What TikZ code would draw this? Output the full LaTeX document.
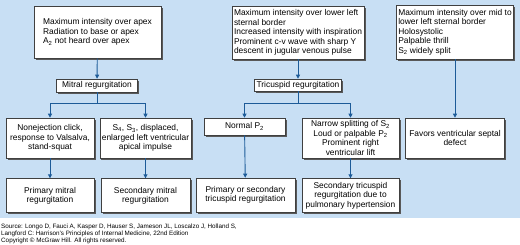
\documentclass[tikz,border=0pt]{standalone}
\usepackage{fontspec}
\setmainfont{Liberation Sans}
\usepackage{xcolor}
\usetikzlibrary{arrows.meta,positioning,shadows}

\definecolor{panelblue}{HTML}{C8DFF4}
\definecolor{flowblue}{HTML}{1D5B98}

\begin{document}
\begin{tikzpicture}[
    x=1pt, y=-1pt,
    box/.style={
        rectangle,
        draw=black!75,
        line width=0.6pt,
        fill=white,
        drop shadow={shadow xshift=1.6pt, shadow yshift=-1.6pt, fill=black!65, opacity=1},
        align=center,
        inner sep=2pt,
        font=\fontsize{8.4}{9.5}\selectfont
    },
    findings/.style={box, align=left},
    flow/.style={-{Triangle[length=4pt,width=4pt]}, draw=flowblue, line width=0.9pt}
]
    \fill[panelblue] (0,0) rectangle (520,218);
    \useasboundingbox (0,0) rectangle (520,244);

    % mitral
    \node[findings, minimum width=127pt, minimum height=52pt] (mitraltop) at (97.5,32)
        {Maximum intensity over apex\\Radiation to base or apex\\A\textsubscript{2} not heard over apex};
    \node[box, minimum width=81pt, minimum height=13pt] (mitral) at (97,85.5) {Mitral regurgitation};
    \node[box, minimum width=88pt, minimum height=40pt] (click) at (50,138)
        {Nonejection click,\\response to Valsalva,\\stand-squat};
    \node[box, minimum width=89pt, minimum height=40pt] (impulse) at (145.5,138)
        {S\textsubscript{4}, S\textsubscript{3}, displaced,\\enlarged left ventricular\\apical impulse};
    \node[box, minimum width=88pt, minimum height=34pt, below=20pt of click] (primmitral)
        {Primary mitral\\regurgitation};
    \node[box, minimum width=89pt, minimum height=34pt, below=20pt of impulse] (secmitral)
        {Secondary mitral\\regurgitation};

    % tricuspid
    \node[findings, minimum width=128pt, minimum height=53pt] (tricusptop) at (298,32.5)
        {Maximum intensity over lower left\\sternal border\\Increased intensity with inspiration\\Prominent c-v wave with sharp Y\\descent in jugular venous pulse};
    \node[box, minimum width=84pt, minimum height=12pt] (tricusp) at (298,85) {Tricuspid regurgitation};
    \node[box, minimum width=81pt, minimum height=17pt] (normalp) at (244.5,126.5) {Normal P\textsubscript{2}};
    \node[box, minimum width=97pt, minimum height=40pt] (narrow) at (350.5,138)
        {Narrow splitting of S\textsubscript{2}\\Loud or palpable P\textsubscript{2}\\Prominent right\\ventricular lift};
    \node[box, minimum width=99pt, minimum height=34pt] (primtricusp) at (245.5,195)
        {Primary or secondary\\tricuspid regurgitation};
    \node[box, minimum width=97pt, minimum height=34pt, below=20pt of narrow] (sectricusp)
        {Secondary tricuspid\\regurgitation due to\\pulmonary hypertension};

    % septal defect
    \node[findings, minimum width=110pt, minimum height=54pt] (septaltop) at (455,32)
        {Maximum intensity over mid to\\lower left sternal border\\Holosystolic\\Palpable thrill\\S\textsubscript{2} widely split};
    \node[box, minimum width=99pt, minimum height=40pt] (septal) at (455,138)
        {Favors ventricular septal\\defect};

    \draw[flow] (mitraltop) -- (mitral);
    \draw[flow] (mitral.south) -- ++(0,11) -| (click);
    \draw[flow] (mitral.south) -- ++(0,11) -| (impulse);
    \draw[flow] (click) -- (primmitral);
    \draw[flow] (impulse) -- (secmitral);

    \draw[flow] (tricusptop) -- (tricusp);
    \draw[flow] (tricusp.south) -- ++(0,12) -| (normalp);
    \draw[flow] (tricusp.south) -- ++(0,12) -| (narrow);
    \draw[flow] (normalp) -- (primtricusp);
    \draw[flow] (narrow) -- (sectricusp);

    \draw[flow] (septaltop) -- (septal);

    \node[anchor=north west, align=left, inner sep=0pt, font=\fontsize{6.3}{7}\selectfont] (source) at (1,223.5)
        {Source: Longo D, Fauci A, Kasper D, Hauser S, Jameson JL, Loscalzo J, Holland S,\\Langford C: Harrison's Principles of Internal Medicine, 22nd Edition\\Copyright \textcopyright{} McGraw Hill. All rights reserved.};
\end{tikzpicture}
\end{document}
